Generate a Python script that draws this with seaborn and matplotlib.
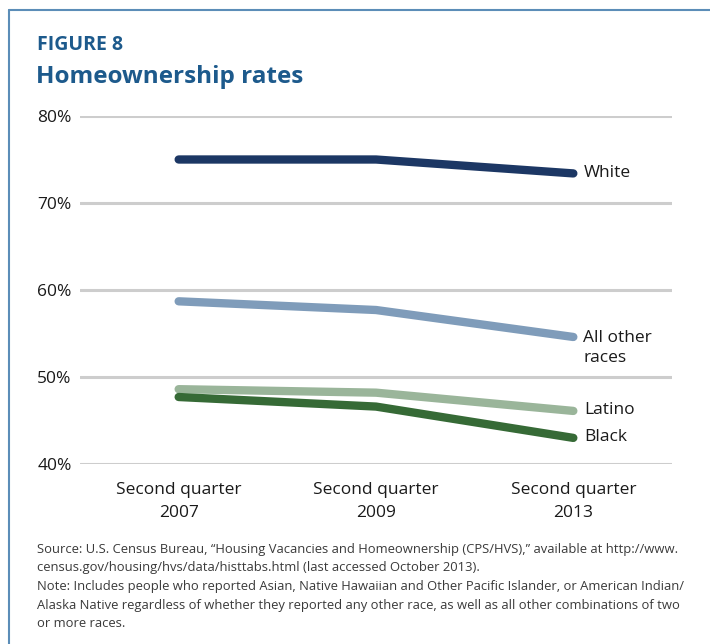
import matplotlib
matplotlib.use("Agg")
import matplotlib.pyplot as plt
import seaborn as sns
import pandas as pd
from matplotlib.lines import Line2D

periods = ["Second quarter\n2007", "Second quarter\n2009", "Second quarter\n2013"]
white = [75.0, 75.0, 73.4]
all_other = [58.7, 57.7, 54.6]
latino = [48.6, 48.2, 46.1]
black = [47.7, 46.6, 43.0]
series_names = ["White", "All other\nraces", "Latino", "Black"]
colors = ["#1c3764", "#7f9cba", "#9ab59a", "#366a36"]
yticks = [40, 50, 60, 70, 80]

rows = []
for name, vals in zip(series_names, [white, all_other, latino, black]):
    for i, v in enumerate(vals):
        rows.append({"period": i, "rate": v, "series": name})
df = pd.DataFrame(rows)

sns.set_theme(style="white")
plt.rcParams["font.family"] = ["Open Sans", "DejaVu Sans"]

fig = plt.figure(figsize=(7.10, 6.44), dpi=100)
ax = fig.add_axes([80/710, 1-464/644, (672-80)/710, (464-116)/644])

for y in yticks:
    ax.axhline(y, color="#cdcdcd", lw=2.2, zorder=0)

sns.lineplot(data=df, x="period", y="rate", hue="series", palette=colors,
             hue_order=series_names, lw=6, ax=ax, legend=False,
             solid_capstyle="round")
for ln in ax.get_lines():
    ln.set_solid_capstyle("round")

ax.set_xlim(-0.5, 2.5)
ax.set_ylim(40, 80)
ax.set_yticks(yticks)
ax.set_yticklabels([f"{v}%" for v in yticks], fontsize=12.5, color="#1a1a1a")
ax.set_xticks(range(3))
ax.set_xticklabels(periods, fontsize=12.5, color="#1a1a1a", linespacing=1.55)
ax.tick_params(axis="y", length=0, pad=6)
ax.tick_params(axis="x", length=0, pad=13)
ax.set_xlabel("")
ax.set_ylabel("")
for s in ax.spines.values():
    s.set_visible(False)
ax.patch.set_alpha(0)

for name, vals in zip(series_names, [white, all_other, latino, black]):
    yv = vals[-1]
    if name.startswith("All"):
        ax.text(2.05, yv + 0.75, name, fontsize=12.5, color="#1a1a1a", va="top",
                ha="left", linespacing=1.3)
        continue
    ax.text(2.055, yv + 0.1, name, fontsize=12.5, color="#1a1a1a", va="center", ha="left")

# frame lines
fig.add_artist(Line2D([9/710, 9/710], [0, 1-10/644], color="#5b8db8", lw=1.5))
fig.add_artist(Line2D([9/710, 1], [1-10/644, 1-10/644], color="#5b8db8", lw=1.5))

fig.text(37/710, 1-45/644, "FIGURE 8", fontsize=14, fontweight="bold",
         color="#1d5a8c", va="center", ha="left")
fig.text(36/710, 1-77/644, "Homeownership rates", fontsize=17.5, fontweight="bold",
         color="#1d5a8c", va="center", ha="left")

note = ("Source: U.S. Census Bureau, \u201cHousing Vacancies and Homeownership (CPS/HVS),\u201d available at http://www.\n"
        "census.gov/housing/hvs/data/histtabs.html (last accessed October 2013).\n"
        "Note: Includes people who reported Asian, Native Hawaiian and Other Pacific Islander, or American Indian/\n"
        "Alaska Native regardless of whether they reported any other race, as well as all other combinations of two\n"
        "or more races.")
fig.text(37/710, 1-543/644, note, fontsize=9.4, color="#3a3a3a", va="top", ha="left",
         linespacing=1.55)

fig.savefig("out.png", dpi=100)
